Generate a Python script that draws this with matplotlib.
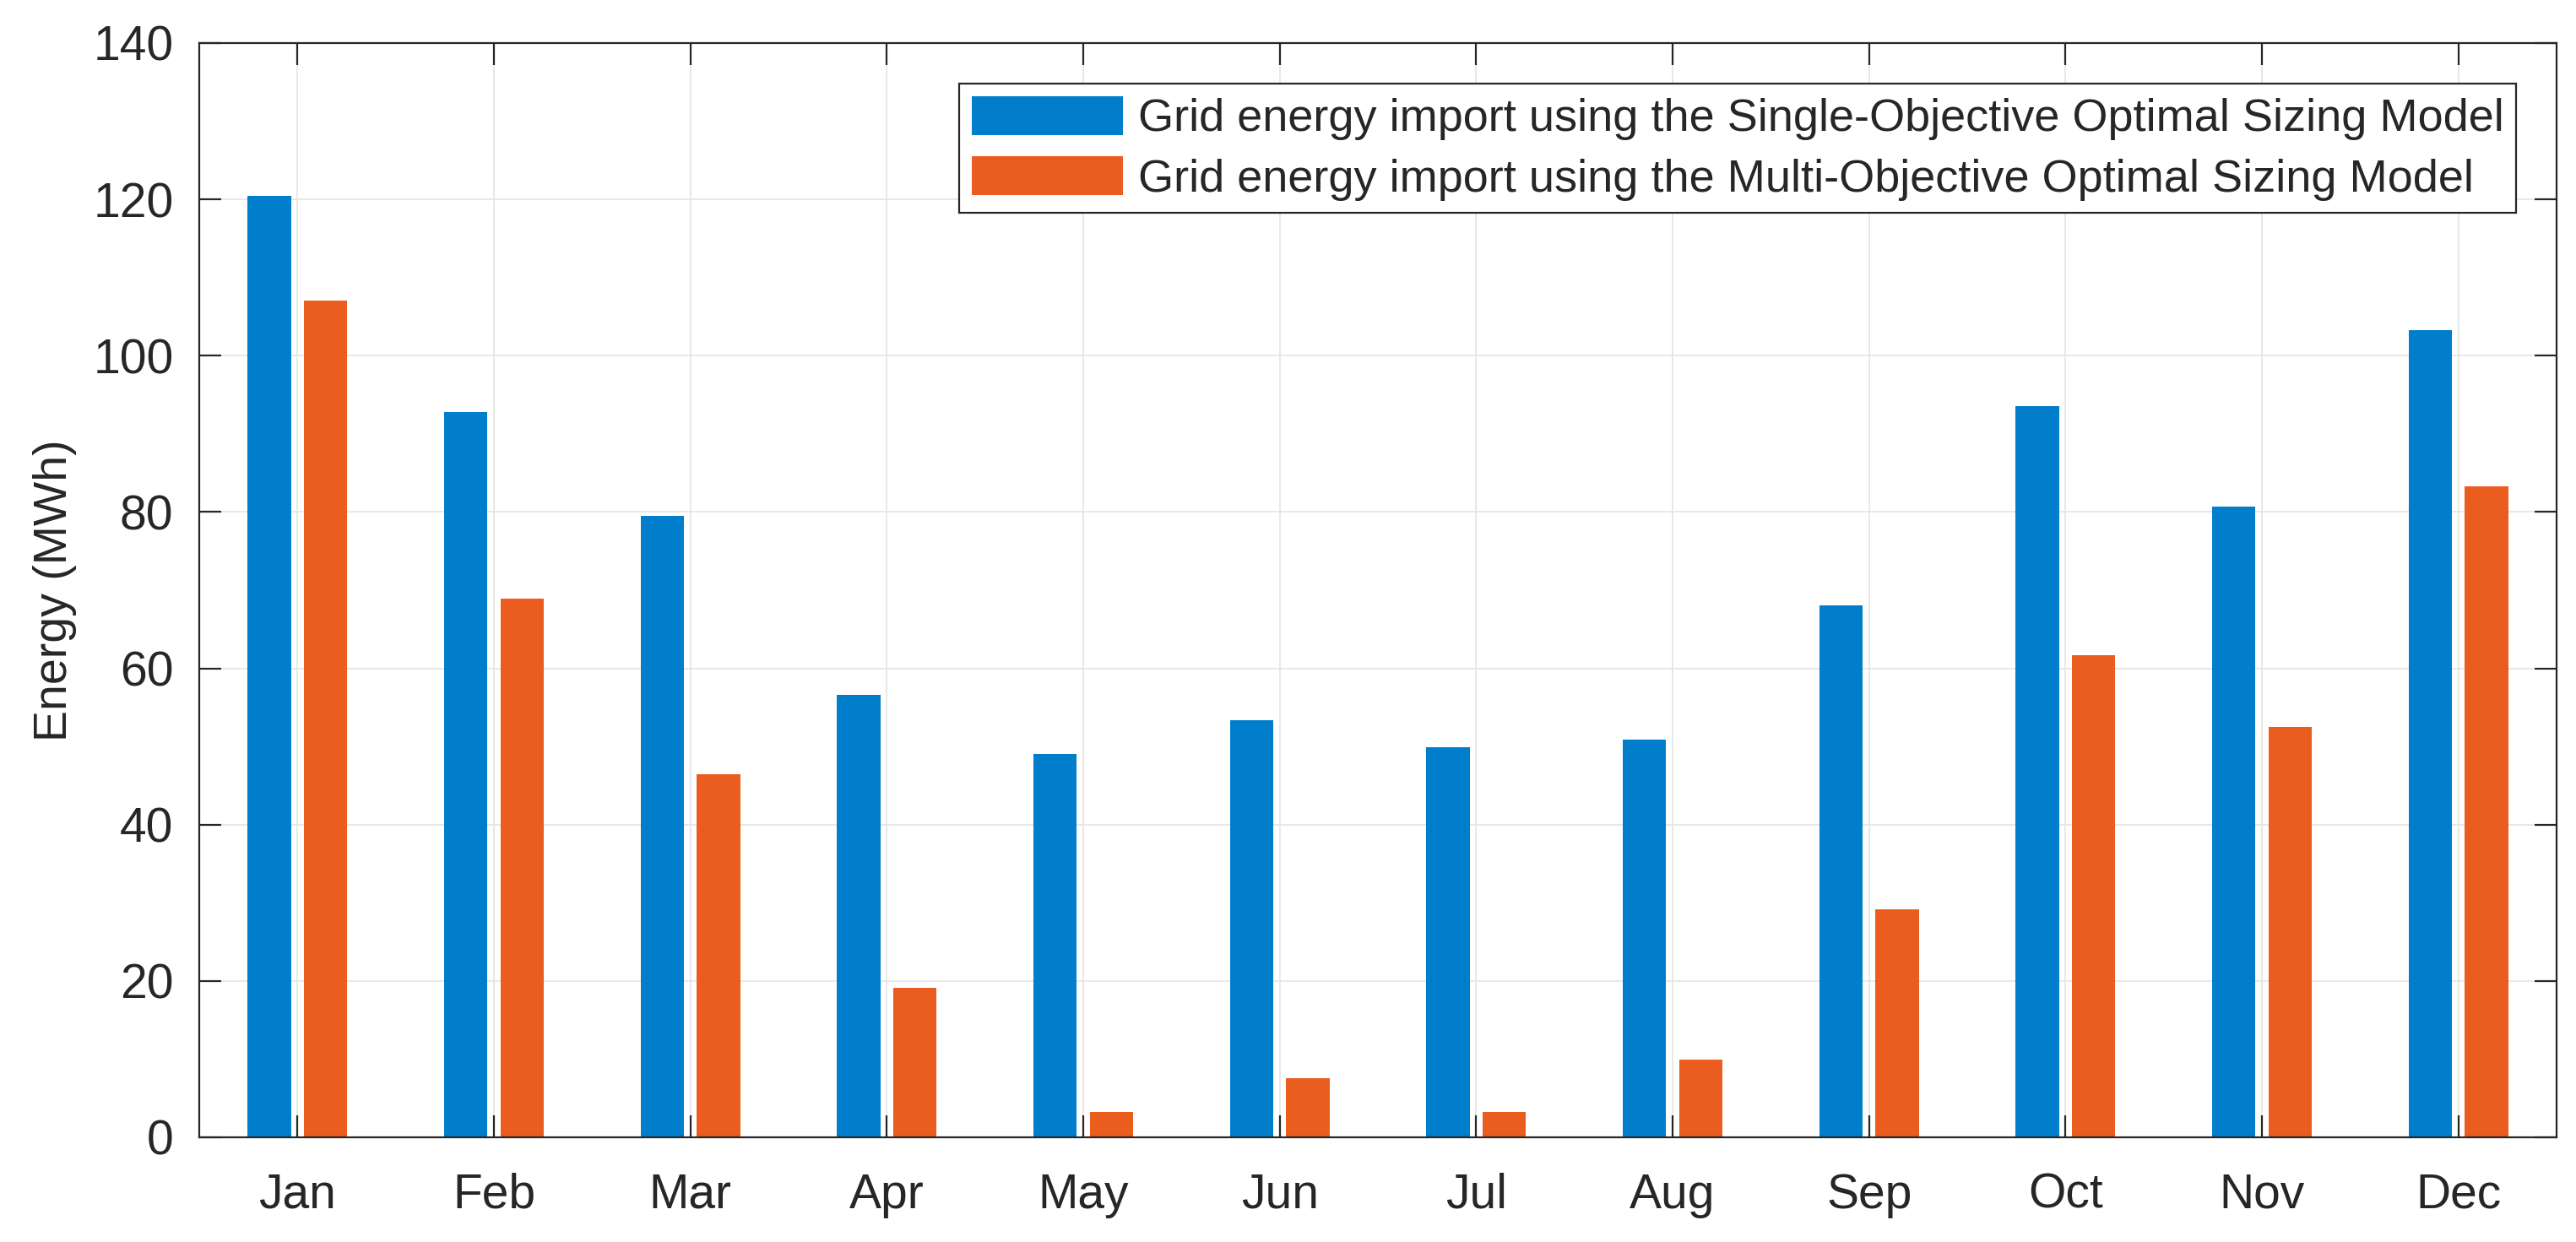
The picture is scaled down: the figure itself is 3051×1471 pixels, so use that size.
import matplotlib
matplotlib.use("Agg")
import matplotlib.pyplot as plt
import numpy as np

months = ["Jan", "Feb", "Mar", "Apr", "May", "Jun", "Jul", "Aug", "Sep", "Oct", "Nov", "Dec"]
single_objective = [120.4, 92.8, 79.5, 56.6, 49.0, 53.4, 49.9, 50.9, 68.1, 93.5, 80.7, 103.3]
multi_objective = [107.1, 68.9, 46.5, 19.1, 3.2, 7.6, 3.2, 9.9, 29.2, 61.7, 52.5, 83.3]
legend_labels = [
    "Grid energy import using the Single-Objective Optimal Sizing Model",
    "Grid energy import using the Multi-Objective Optimal Sizing Model",
]
y_ticks = [0, 20, 40, 60, 80, 100, 120, 140]

plt.rcParams['font.family'] = ['Liberation Sans', 'DejaVu Sans']
text_col = '#262626'

fig = plt.figure(figsize=(30.51, 14.71), dpi=100)
ax = fig.add_axes([0.07735, 0.0843, 0.99246 - 0.07735, 0.96533 - 0.0843])

x = np.arange(1, len(months) + 1)
w = 0.22
off = 0.143
ax.bar(x - off, single_objective, width=w, color='#007ECC', label=legend_labels[0], zorder=3)
ax.bar(x + off, multi_objective, width=w, color='#EB5D1F', label=legend_labels[1], zorder=3)

ax.set_xlim(0.5, 12.5)
ax.set_ylim(0, 140)
ax.set_xticks(x)
ax.set_xticklabels(months)
ax.set_yticks(y_ticks)

ax.grid(True, color='#E6E6E6', linewidth=1.3, zorder=0)
ax.set_axisbelow(True)

for s in ax.spines.values():
    s.set_linewidth(1.6)
    s.set_color(text_col)
    s.set_zorder(5)

ax.tick_params(axis='both', direction='in', length=19, width=1.6, color=text_col,
               top=True, right=True, labelsize=41, labelcolor=text_col)
ax.tick_params(axis='x', pad=30)
ax.tick_params(axis='y', pad=22)

ax.set_ylabel("Energy (MWh)", fontsize=40, color=text_col)
ax.yaxis.set_label_coords(-0.052, 0.5)

leg = ax.legend(loc='upper right', bbox_to_anchor=(0.9828, 0.963), borderaxespad=0,
                fontsize=39, frameon=True, fancybox=False, framealpha=1,
                handlelength=3.3, handleheight=0.93, handletextpad=0.33,
                borderpad=0.27, labelspacing=0.35)
leg.get_frame().set_edgecolor(text_col)
leg.get_frame().set_linewidth(1.6)
for t in leg.get_texts():
    t.set_color(text_col)
leg.set_zorder(10)

fig.savefig("out.png", dpi=100, facecolor='white')
